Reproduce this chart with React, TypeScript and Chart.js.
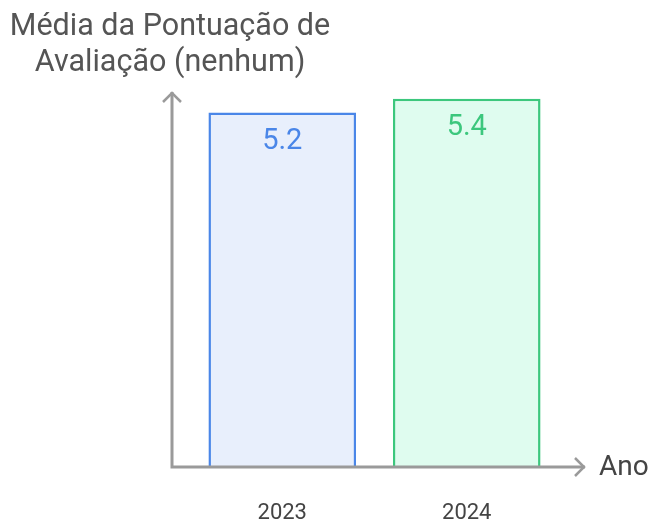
import React, { useEffect, useRef } from "react";
import { Chart, registerables } from "chart.js";

Chart.register(...registerables);

const categories: string[] = ["2023", "2024"];
const values: number[] = [5.2, 5.4];
const valueLabels: string[] = ["5.2", "5.4"];
const borderColors: string[] = ["#4a86e8", "#3cc77d"];
const fillColors: string[] = ["#e8effc", "#dffcef"];
const yTitleLines: string[] = ["Média da Pontuação de", "Avaliação (nenhum)"];
const xTitle = "Ano";

const FONT = "Roboto, 'Noto Sans', sans-serif";

const overlayPlugin = {
  id: "overlay",
  afterDatasetsDraw(chart: any) {
    const ctx = chart.ctx as CanvasRenderingContext2D;
    const xs = chart.scales.x;
    const ys = chart.scales.y;
    const area = chart.chartArea;
    const axisX = 172;
    const axisBottom = area.bottom;
    const axisTop = area.top;
    const axisRight = 585;

    ctx.save();
    // value labels
    ctx.font = `29px ${FONT}`;
    ctx.textAlign = "center";
    ctx.textBaseline = "middle";
    values.forEach((v, i) => {
      const px = xs.getPixelForValue(i);
      const py = ys.getPixelForValue(v);
      ctx.fillStyle = borderColors[i];
      ctx.fillText(valueLabels[i], px, py + 29);
    });

    // axes
    ctx.strokeStyle = "#9a9a9a";
    ctx.lineWidth = 3;
    ctx.lineCap = "butt";
    ctx.beginPath();
    ctx.moveTo(axisX, axisBottom);
    ctx.lineTo(axisX, axisTop);
    ctx.moveTo(axisX - 1.5, axisBottom);
    ctx.lineTo(axisRight, axisBottom);
    ctx.stroke();
    ctx.lineWidth = 2.5;
    ctx.lineJoin = "miter";
    ctx.beginPath();
    ctx.moveTo(axisX - 9, axisTop + 10);
    ctx.lineTo(axisX, axisTop + 1);
    ctx.lineTo(axisX + 9, axisTop + 10);
    ctx.moveTo(axisRight - 10, axisBottom - 9);
    ctx.lineTo(axisRight - 1, axisBottom);
    ctx.lineTo(axisRight - 10, axisBottom + 9);
    ctx.stroke();

    // x title
    ctx.fillStyle = "#444";
    ctx.font = `28px ${FONT}`;
    ctx.textAlign = "left";
    ctx.textBaseline = "middle";
    ctx.fillText(xTitle, 599, axisBottom + 1);

    // y title
    ctx.textAlign = "center";
    ctx.fillStyle = "#555";
    ctx.font = `30.5px ${FONT}`;
    yTitleLines.forEach((line, i) => {
      ctx.fillText(line, 170, 27 + i * 36);
    });

    // tick labels
    ctx.font = `22px ${FONT}`;
    ctx.fillStyle = "#444";
    categories.forEach((c, i) => {
      ctx.fillText(c, xs.getPixelForValue(i), 513);
    });
    ctx.restore();
  },
};

export default function App() {
  const ref = useRef<HTMLCanvasElement>(null);
  useEffect(() => {
    document.body.style.margin = "0";
    const chart = new Chart(ref.current!, {
      type: "bar",
      data: {
        labels: categories,
        datasets: [
          {
            data: values,
            backgroundColor: fillColors,
            borderColor: borderColors,
            borderWidth: 2.5,
            borderSkipped: "bottom",
            barPercentage: 0.8,
            categoryPercentage: 1,
          },
        ],
      },
      options: {
        animation: false,
        responsive: false,
        layout: { padding: { left: 190, right: 95, top: 92, bottom: 55 } },
        plugins: { legend: { display: false }, tooltip: { enabled: false } },
        scales: {
          x: { display: false },
          y: { display: false, min: 0, max: 5.5 },
        },
      },
      plugins: [overlayPlugin],
    });
    return () => chart.destroy();
  }, []);
  return (
    <div style={{ position: "fixed", left: 0, top: 0, width: 654, height: 522, background: "#fff" }}>
      <canvas ref={ref} width={654} height={522} />
    </div>
  );
}
